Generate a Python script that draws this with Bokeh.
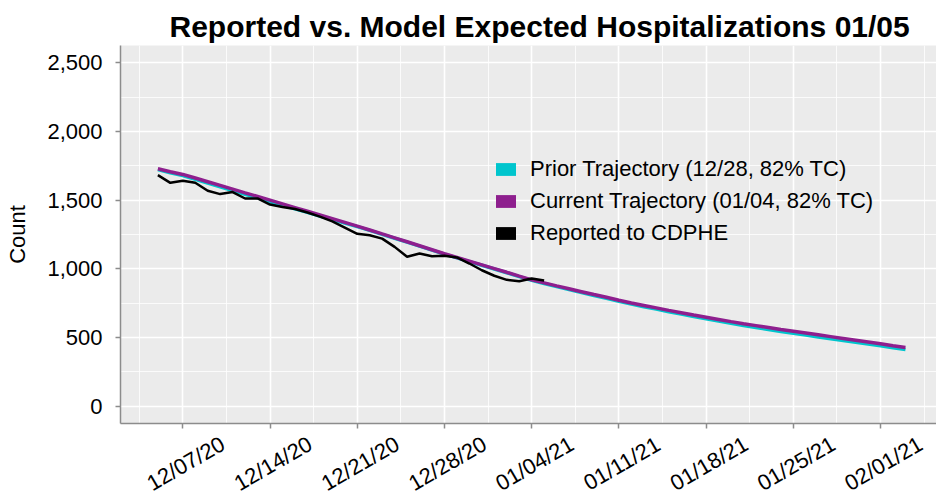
import math
from datetime import datetime, timedelta
import pandas as pd
from bokeh.plotting import figure
from bokeh.layouts import column
from bokeh.models import FixedTicker, Range1d, Legend, LegendItem
from bokeh.embed import file_html
from bokeh.resources import INLINE
from bokeh.core.properties import value

# ---------------- data ----------------
reported_dates = pd.date_range("2020-12-05", "2021-01-05", freq="D")
reported = [1682, 1626, 1641, 1626, 1568, 1544, 1559, 1512, 1512, 1468,
            1450, 1435, 1410, 1380, 1345, 1300, 1255, 1245, 1220, 1160,
            1088, 1112, 1092, 1095, 1083, 1039, 990, 950, 920, 910,
            930, 915]

model_dates = pd.date_range("2020-12-05", "2021-02-03", freq="D")
current_traj = [1728, 1707, 1687, 1661, 1634, 1607, 1580, 1553, 1527, 1500,
                1473, 1446, 1419, 1392, 1365, 1338, 1311, 1283, 1254, 1226,
                1197, 1168, 1139, 1110, 1083, 1056, 1029, 1002, 975, 947,
                920, 898, 876, 855, 834, 813, 793, 772, 752, 734,
                716, 698, 681, 664, 648, 632, 616, 601, 587, 573,
                559, 546, 533, 520, 507, 494, 481, 468, 455, 441,
                428]
prior_traj = [1722, 1699, 1678, 1651, 1624, 1597, 1570, 1543, 1517, 1490,
              1463, 1437, 1411, 1385, 1359, 1333, 1307, 1280, 1251, 1223,
              1194, 1165, 1136, 1107, 1080, 1053, 1026, 999, 972, 944,
              916, 893, 871, 849, 828, 806, 786, 764, 744, 725,
              707, 688, 671, 653, 637, 620, 604, 588, 574, 559,
              545, 532, 519, 505, 492, 479, 466, 453, 440, 426,
              413]

x_tick_dates = ["2020-12-07", "2020-12-14", "2020-12-21", "2020-12-28", "2021-01-04",
                "2021-01-11", "2021-01-18", "2021-01-25", "2021-02-01"]
x_tick_labels = ["12/07/20", "12/14/20", "12/21/20", "12/28/20", "01/04/21",
                 "01/11/21", "01/18/21", "01/25/21", "02/01/21"]
y_ticks = [0, 500, 1000, 1500, 2000, 2500]
y_tick_labels = ["0", "500", "1,000", "1,500", "2,000", "2,500"]
y_minor = [250, 750, 1250, 1750, 2250]

series_names = ["Prior Trajectory (12/28, 82% TC)",
                "Current Trajectory (01/04, 82% TC)",
                "Reported to CDPHE"]

# ---------------- style ----------------
FONT = "Liberation Sans"
CYAN = "#00C5CD"
PURPLE = "#8E1F8E"
BLACK = "#000000"
AXIS_GREY = "#8C8C8C"
Y_MIN, Y_MAX = -125, 2625
X_START = datetime(2020, 12, 2)
X_END = X_START + timedelta(days=65.49)
FRAME_LEFT = 120

x_range = Range1d(X_START, X_END)

p = figure(width=936, height=431, x_axis_type="datetime",
           output_backend="svg", toolbar_location=None,
           x_range=x_range, y_range=Range1d(Y_MIN, Y_MAX),
           min_border_left=FRAME_LEFT, min_border_right=0,
           min_border_top=45, min_border_bottom=8)
p.background_fill_color = "#EBEBEB"
p.border_fill_color = "white"
p.outline_line_color = None

p.title.text = "Reported vs. Model Expected Hospitalizations 01/05"
p.title.text_font = FONT
p.title.text_font_size = "30px"
p.title.text_font_style = "bold"
p.title.text_color = "black"
p.title.align = "left"
p.title.offset = 49
p.title.standoff = 6

# ticks
DAY_MS = 86400000
xt = [pd.Timestamp(d).value // 10**6 for d in x_tick_dates]
xminor = [t - 3.5 * DAY_MS for t in xt] + [xt[-1] + 3.5 * DAY_MS]
p.xaxis.ticker = FixedTicker(ticks=xt, minor_ticks=xminor)
p.xaxis.major_label_overrides = {t: "" for t in xt}
p.xaxis.major_label_text_font_size = "1px"
p.xaxis.major_label_standoff = 0
p.yaxis.ticker = FixedTicker(ticks=y_ticks, minor_ticks=y_minor)
p.yaxis.major_label_overrides = {t: l for t, l in zip(y_ticks, y_tick_labels)}

for ax in (p.xaxis[0], p.yaxis[0]):
    ax.axis_line_color = AXIS_GREY
    ax.axis_line_width = 1.5
    ax.major_tick_line_color = AXIS_GREY
    ax.major_tick_line_width = 1.5
    ax.major_tick_in = 0
    ax.major_tick_out = 5
    ax.minor_tick_line_color = None

p.yaxis.major_label_text_font = FONT
p.yaxis.major_label_text_font_size = "22px"
p.yaxis.major_label_text_color = "black"
p.yaxis.major_label_standoff = 13
p.yaxis.axis_label = "Count"
p.yaxis.axis_label_text_font = FONT
p.yaxis.axis_label_text_font_size = "22px"
p.yaxis.axis_label_text_font_style = "normal"
p.yaxis.axis_label_text_color = "black"
p.yaxis.axis_label_standoff = 14

for g in (p.xgrid[0], p.ygrid[0]):
    g.grid_line_color = "white"
    g.grid_line_width = 1.6
    g.minor_grid_line_color = "white"
    g.minor_grid_line_width = 0.8

# lines
p.line(model_dates, prior_traj, line_color=CYAN, line_width=3.5)
p.line(model_dates, current_traj, line_color=PURPLE, line_width=3.5)
p.line(reported_dates, reported, line_color=BLACK, line_width=2.5)

# legend swatches (zero-area areas along each series, used only for the legend key)
sw = [
    p.varea(x=model_dates, y1=prior_traj, y2=prior_traj, fill_color=CYAN),
    p.varea(x=model_dates, y1=current_traj, y2=current_traj, fill_color=PURPLE),
    p.varea(x=reported_dates, y1=reported, y2=reported, fill_color=BLACK),
]
legend = Legend(items=[LegendItem(label=n, renderers=[r]) for n, r in zip(series_names, sw)],
                location=(373, 177), padding=0, margin=0, spacing=6,
                glyph_width=25, glyph_height=16, label_height=16, label_standoff=12,
                label_text_font=FONT, label_text_font_size="22px", label_text_color="black",
                background_fill_alpha=0, border_line_color=None)
p.add_layout(legend)

# strip below the panel holding the rotated date labels, sharing the same x scale
p2 = figure(width=936, height=64, x_axis_type="datetime",
            output_backend="svg", toolbar_location=None,
            x_range=x_range, y_range=Range1d(0, 1),
            x_axis_location=None, y_axis_location=None,
            min_border_left=FRAME_LEFT, min_border_right=0,
            min_border_top=0, min_border_bottom=0)
p2.grid.visible = False
p2.outline_line_color = None
p2.background_fill_color = "white"
p2.border_fill_color = "white"
p2.text(x=pd.to_datetime(x_tick_dates), y=[0.5] * len(x_tick_dates), text=x_tick_labels,
        angle=math.pi / 6, text_align="center", text_baseline="middle", x_offset=3,
        text_font=value(FONT), text_font_size="22px", text_color="black")

layout = column(p, p2, spacing=0)
open("out.html", "w").write(file_html(layout, INLINE))
